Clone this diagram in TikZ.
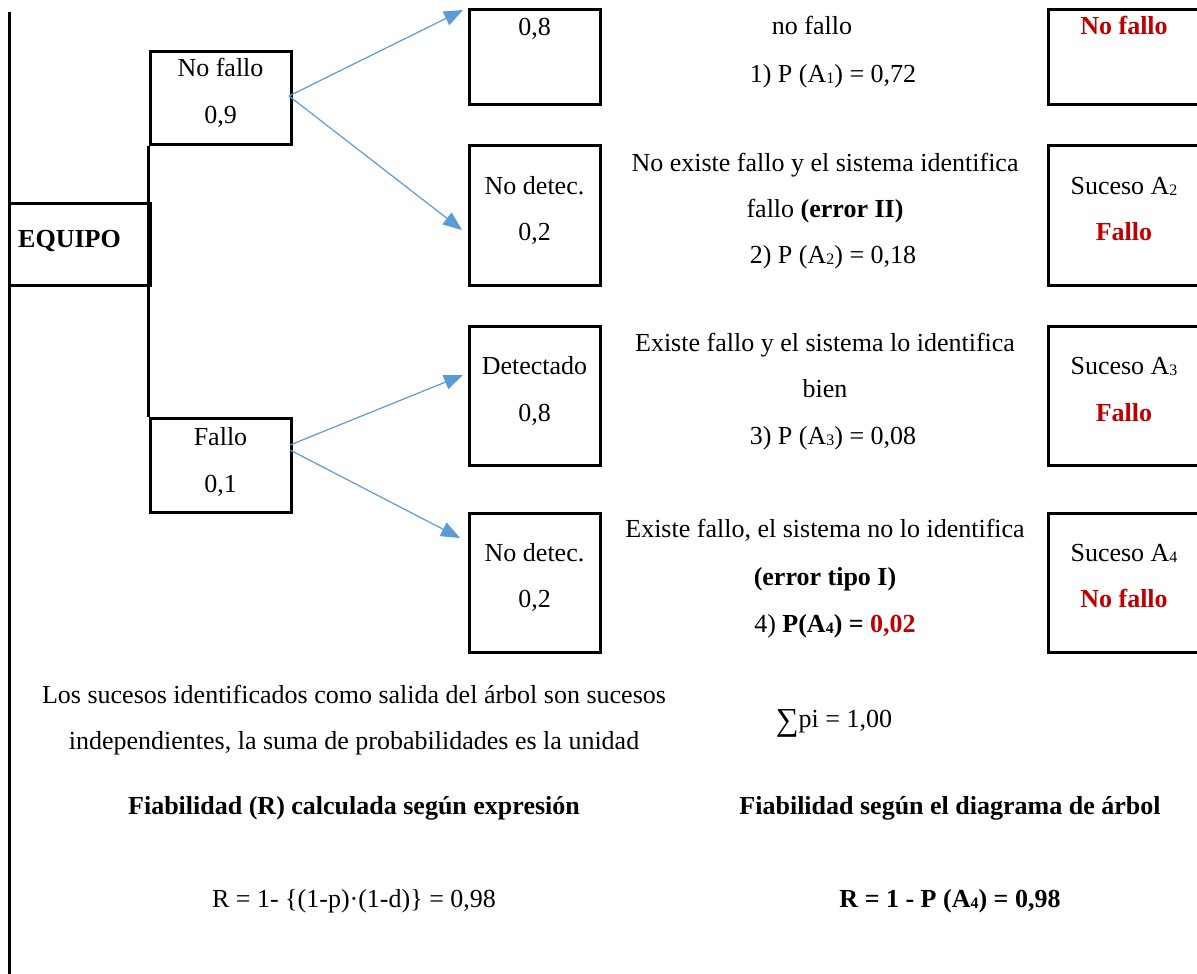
\documentclass[tikz,border=0pt]{standalone}
\usepackage{fontspec}
\setmainfont{Liberation Serif}
\usetikzlibrary{arrows.meta}
\definecolor{darkred}{RGB}{192,0,0}
\definecolor{arrowblue}{RGB}{91,155,213}
\newcommand{\mysub}[1]{{\fontsize{16}{16}\selectfont\raisebox{-1.5pt}{#1}}}
\begin{document}
\begin{tikzpicture}[x=1pt,y=-1pt,
  box/.style={draw=black, line width=3pt, inner sep=0pt, rectangle},
  blackline/.style={draw=black, line width=3pt},
  txt/.style={anchor=base, inner sep=0pt, font=\fontsize{26}{30}\selectfont},
  redbold/.style={txt, text=darkred, font=\fontsize{26}{30}\selectfont\bfseries},
  conn/.style={draw=arrowblue, line width=1.2pt, -{Triangle[length=19pt,width=15pt]}}]
\useasboundingbox (0,0) rectangle (1197,974);
\clip (0,0) rectangle (1197,974);

% left main line
\coordinate (ltop) at (9,12);
\coordinate (lbot) at (9,980);
\draw[blackline] (ltop) -- (lbot);

% root
\node[box, minimum width=141pt, minimum height=82pt] (equipo) at (79.5,244) {};
\node[txt, anchor=base west] (equipoT) at (18,247) {\textbf{EQUIPO}};

% first level
\node[box, minimum width=141pt, minimum height=92pt] (nf) at (220.5,98) {};
\node[txt] (nfA) at (220.5,77) {No fallo};
\node[txt] (nfB) at (220.5,123) {0,9};
\node[box, minimum width=141pt, minimum height=94pt] (fa) at (220.5,465) {};
\node[txt] (faA) at (220.5,445) {Fallo};
\node[txt] (faB) at (220.5,492) {0,1};
\draw[blackline] (nf.south west) -- (fa.north west);

% second level boxes
\node[box, minimum width=131pt, minimum height=94pt] (b1) at (534.5,57) {};
\node[txt] (b1A) at (534.5,36) {0,8};
\node[box, minimum width=131pt, minimum height=140pt] (b2) at (534.5,215) {};
\node[txt] (b2A) at (534.5,194) {No detec.};
\node[txt] (b2B) at (534.5,240) {0,2};
\node[box, minimum width=131pt, minimum height=139pt] (b3) at (534.5,395.5) {};
\node[txt] (b3A) at (534.5,374) {Detectado};
\node[txt] (b3B) at (534.5,421) {0,8};
\node[box, minimum width=131pt, minimum height=139pt] (b4) at (534.5,582.5) {};
\node[txt] (b4A) at (534.5,561) {No detec.};
\node[txt] (b4B) at (534.5,607) {0,2};

% arrows
\coordinate (s1) at (289,96);
\coordinate (e1) at (463,10);
\coordinate (e2) at (462,230);
\coordinate (s3) at (290,445);
\coordinate (s4) at (290,450);
\coordinate (e3) at (463,375);
\coordinate (e4) at (460,538);
\draw[conn] (s1) -- (e1);
\draw[conn] (s1) -- (e2);
\draw[conn] (s3) -- (e3);
\draw[conn] (s4) -- (e4);

% descriptions
\node[txt] (d1A) at (812,35) {no fallo};
\node[txt] (d1B) at (833,82) {1) P (A\mysub{1}) = 0,72};
\node[txt] (d2A) at (825,171) {No existe fallo y el sistema identifica};
\node[txt] (d2B) at (825,217) {fallo \textbf{(error II)}};
\node[txt] (d2C) at (833,263) {2) P (A\mysub{2}) = 0,18};
\node[txt] (d3A) at (825,351) {Existe fallo y el sistema lo identifica};
\node[txt] (d3B) at (825,397) {bien};
\node[txt] (d3C) at (833,444) {3) P (A\mysub{3}) = 0,08};
\node[txt] (d4A) at (825,537) {Existe fallo, el sistema no lo identifica};
\node[txt] (d4B) at (825,585) {\textbf{(error tipo I)}};
\node[txt] (d4C) at (835,632) {4) \textbf{P(A\mysub{4}) = \textcolor{darkred}{0,02}}};

% outcome boxes
\node[box, minimum width=167pt, minimum height=94pt] (c1) at (1131.5,57) {};
\node[redbold] (c1A) at (1124,35) {No fallo};
\node[box, minimum width=167pt, minimum height=140pt] (c2) at (1131.5,215) {};
\node[txt] (c2A) at (1124,194) {Suceso A\mysub{2}};
\node[redbold] (c2B) at (1124,240) {Fallo};
\node[box, minimum width=167pt, minimum height=139pt] (c3) at (1131.5,395.5) {};
\node[txt] (c3A) at (1124,374) {Suceso A\mysub{3}};
\node[redbold] (c3B) at (1124,421) {Fallo};
\node[box, minimum width=167pt, minimum height=139pt] (c4) at (1131.5,582.5) {};
\node[txt] (c4A) at (1124,561) {Suceso A\mysub{4}};
\node[redbold] (c4B) at (1124,607) {No fallo};

% bottom texts
\node[txt] (n1) at (354,703) {Los sucesos identificados como salida del árbol son sucesos};
\node[txt] (n2) at (354,749) {independientes, la suma de probabilidades es la unidad};
\node[txt] (n3) at (834,727) {{\fontsize{32}{32}\selectfont\raisebox{-3pt}{∑}}pi = 1,00};
\node[txt] (n4) at (354,814) {\textbf{Fiabilidad (R) calculada según expresión}};
\node[txt] (n5) at (950,814) {\textbf{Fiabilidad según el diagrama de árbol}};
\node[txt] (n6) at (354,907) {R = 1- \{(1-p)·(1-d)\} = 0,98};
\node[txt] (n7) at (950,907) {\textbf{R = 1 - P (A\mysub{4}) = 0,98}};
\end{tikzpicture}
\end{document}
